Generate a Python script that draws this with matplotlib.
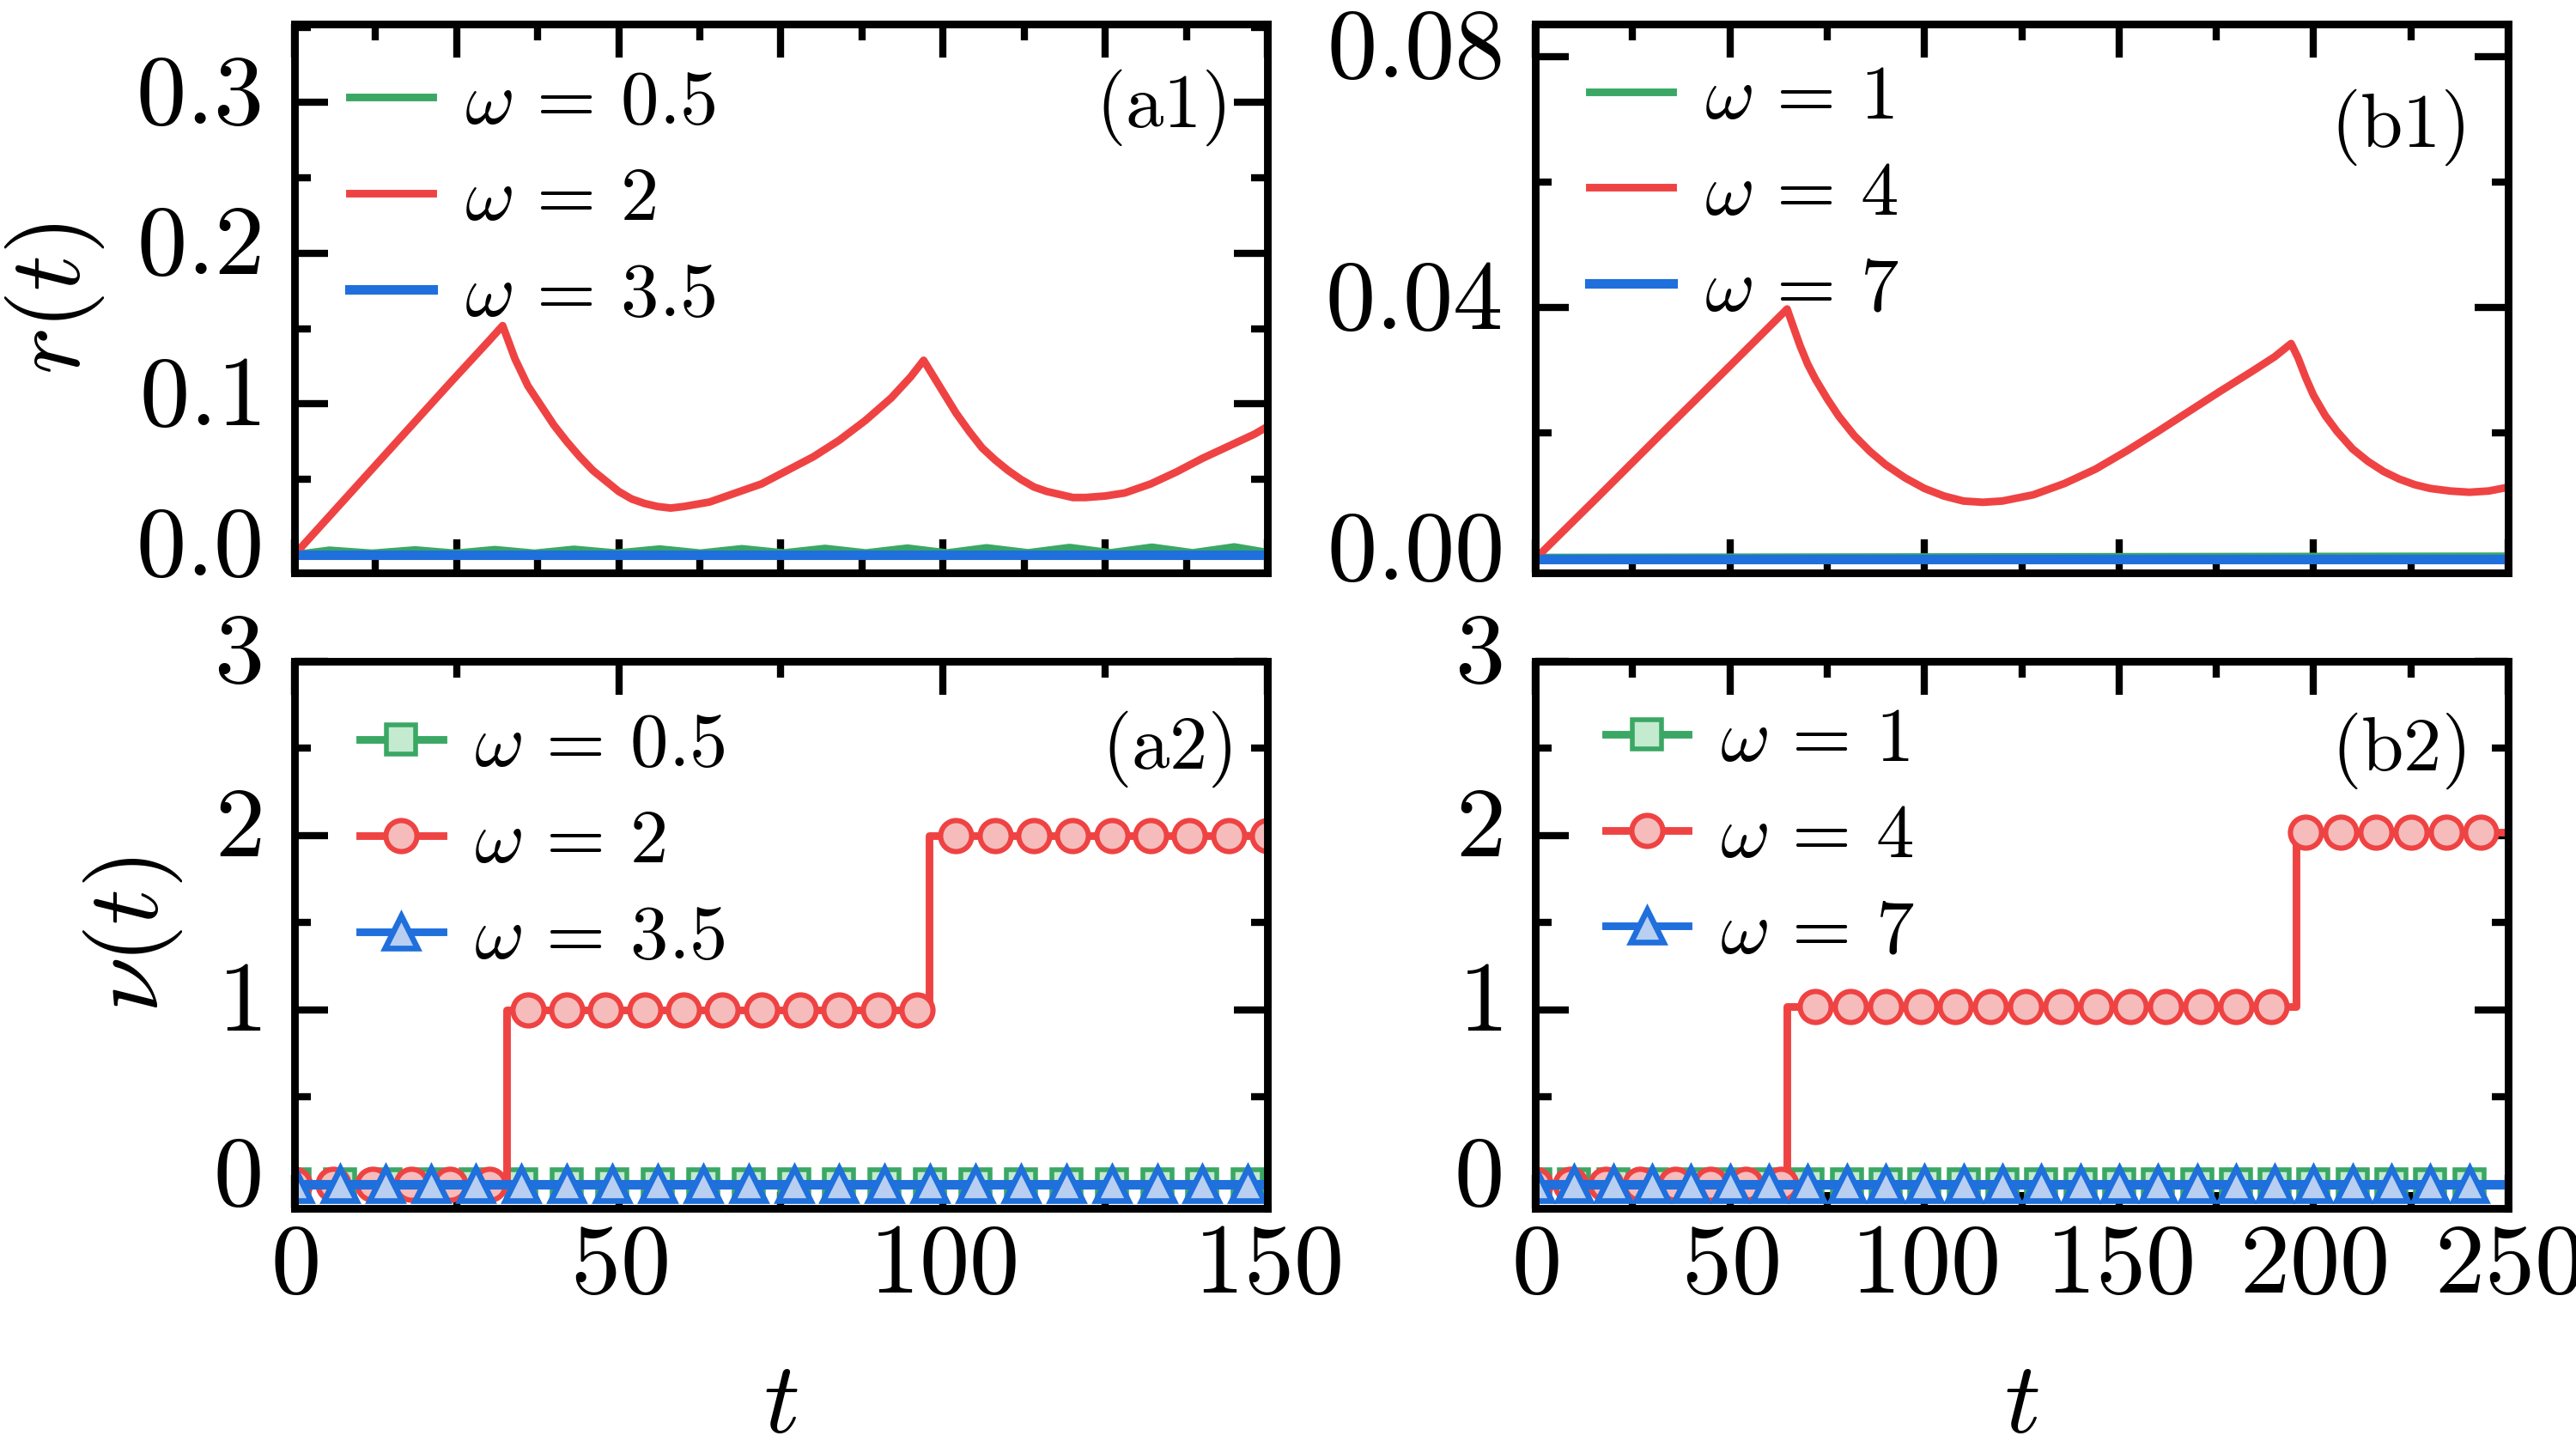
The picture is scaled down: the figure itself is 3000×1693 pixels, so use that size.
import matplotlib
matplotlib.use('Agg')
import matplotlib.pyplot as plt
import matplotlib.transforms as mtransforms
from matplotlib.lines import Line2D
from matplotlib.ticker import MultipleLocator

plt.rcParams['mathtext.fontset'] = 'cm'

# ---- data ----
# (a1) r(t), omega = 2
a1_red_t = [0, 8, 16, 24, 30, 32.1, 34, 36, 38, 40, 42, 44, 46, 48, 50, 52, 54, 56,
            58, 60, 64, 68, 72, 76, 80, 84, 88, 92, 95, 97, 98, 100, 102, 104, 106,
            108, 110, 112, 114, 116, 118, 120, 122, 125, 128, 132, 136, 140, 144, 148, 150]
a1_red_r = [0, 0.038, 0.076, 0.114, 0.142, 0.152, 0.130, 0.112, 0.099, 0.086, 0.075,
            0.065, 0.056, 0.049, 0.042, 0.037, 0.034, 0.032, 0.031, 0.032, 0.035,
            0.041, 0.047, 0.056, 0.065, 0.076, 0.089, 0.104, 0.118, 0.129, 0.122,
            0.108, 0.094, 0.082, 0.071, 0.063, 0.056, 0.050, 0.045, 0.042, 0.040,
            0.038, 0.038, 0.039, 0.041, 0.047, 0.055, 0.064, 0.072, 0.080, 0.085]
# (a1) omega = 0.5, small wiggles near zero
a1_green_t = [0, 5.4, 12, 18.6, 24.8, 30.9, 37, 43.1, 49.7, 56.3, 62.6, 69, 75.4,
              81.8, 88.1, 94.5, 100.6, 106.7, 113.1, 119.5, 125.8, 132.2, 138.5, 144.9, 150]
a1_green_r = [0.0, 0.0030, 0.0010, 0.0032, 0.0010, 0.0034, 0.0010, 0.0036, 0.0011,
              0.0038, 0.0011, 0.0040, 0.0012, 0.0042, 0.0012, 0.0044, 0.0012, 0.0046,
              0.0013, 0.0048, 0.0013, 0.0050, 0.0013, 0.0052, 0.0015]
# (a1) omega = 3.5
a1_blue_t = [0, 150]
a1_blue_r = [0, 0]

# (b1) r(t), omega = 4
b1_red_t = [0, 16, 32, 48, 60, 64.7, 66, 68, 70, 72, 75, 78, 82, 86, 90, 95, 100,
            105, 110, 115, 120, 128, 136, 144, 152, 160, 168, 176, 184, 190, 194.2,
            196, 198, 200, 203, 206, 210, 214, 218, 222, 226, 230, 235, 240, 245, 250]
b1_red_r = [0, 0.0098, 0.0197, 0.0295, 0.0369, 0.0398, 0.0375, 0.0340, 0.0310,
            0.0286, 0.0255, 0.0227, 0.0196, 0.0171, 0.0150, 0.0129, 0.0112, 0.0100,
            0.0092, 0.0090, 0.0092, 0.0102, 0.0120, 0.0143, 0.0172, 0.0203, 0.0235,
            0.0267, 0.0298, 0.0322, 0.0343, 0.0320, 0.0288, 0.0260, 0.0228, 0.0203,
            0.0175, 0.0155, 0.0139, 0.0127, 0.0118, 0.0112, 0.0108, 0.0106, 0.0108,
            0.0114]
b1_green_t = [0, 125, 250]
b1_green_r = [0.0002, 0.0003, 0.0004]
b1_blue_t = [0, 250]
b1_blue_r = [0, 0]

# (a2) nu(t)
a2_red_t = [0, 32.7, 32.7, 97.9, 97.9, 150]
a2_red_nu = [0, 0, 1, 1, 2, 2]
a2_red_mark_t = [0, 6, 12, 18, 24, 30, 36, 42, 48, 54, 60, 66, 72, 78, 84, 90, 96,
                 102, 108, 114, 120, 126, 132, 138, 144, 150]
a2_red_mark_nu = [0, 0, 0, 0, 0, 0, 1, 1, 1, 1, 1, 1, 1, 1, 1, 1, 1,
                  2, 2, 2, 2, 2, 2, 2, 2, 2]
a2_flat_t = [0, 150]
a2_flat_nu = [0, 0]
a2_mark_t = [0, 7, 14, 21, 28, 35, 42, 49, 56, 63, 70, 77, 84, 91, 98, 105, 112,
             119, 126, 133, 140, 147]
a2_mark_nu = [0, 0, 0, 0, 0, 0, 0, 0, 0, 0, 0, 0, 0, 0, 0, 0, 0, 0, 0, 0, 0, 0]

# (b2) nu(t)
b2_red_t = [0, 64.6, 64.6, 195.4, 195.4, 250]
b2_red_nu = [0, 0, 1.02, 1.02, 2.02, 2.02]
b2_red_mark_t = [0, 9, 18, 27, 36, 45, 54, 63, 72, 81, 90, 99, 108, 117, 126, 135,
                 144, 153, 162, 171, 180, 189, 198, 207, 216, 225, 234, 243]
b2_red_mark_nu = [0, 0, 0, 0, 0, 0, 0, 0, 1.02, 1.02, 1.02, 1.02, 1.02, 1.02, 1.02,
                  1.02, 1.02, 1.02, 1.02, 1.02, 1.02, 1.02, 2.02, 2.02, 2.02, 2.02,
                  2.02, 2.02]
b2_flat_t = [0, 250]
b2_flat_nu = [0, 0]
b2_mark_t = [0, 10, 20, 30, 40, 50, 60, 70, 80, 90, 100, 110, 120, 130, 140, 150,
             160, 170, 180, 190, 200, 210, 220, 230, 240]
b2_mark_nu = [0, 0, 0, 0, 0, 0, 0, 0, 0, 0, 0, 0, 0, 0, 0, 0, 0, 0, 0, 0, 0, 0, 0, 0, 0]

a_labels = [r'$\omega\,=\,0.5$', r'$\omega\,=\,2$', r'$\omega\,=\,3.5$']
b_labels = [r'$\omega\,=\,1$', r'$\omega\,=\,4$', r'$\omega\,=\,7$']

# ticks
a_xticks = [0, 50, 100, 150]
a_xticklabels = ['$0$', '$50$', '$100$', '$150$']
b_xticks = [0, 50, 100, 150, 200, 250]
b_xticklabels = ['$0$', '$50$', '$100$', '$150$', '$200$', '$250$']
a1_yticks = [0.0, 0.1, 0.2, 0.3]
a1_yticklabels = ['$0.0$', '$0.1$', '$0.2$', '$0.3$']
b1_yticks = [0.0, 0.04, 0.08]
b1_yticklabels = ['$0.00$', '$0.04$', '$0.08$']
nu_yticks = [0, 1, 2, 3]
nu_yticklabels = ['$0$', '$1$', '$2$', '$3$']

green = '#3aa864'
red = '#ef4343'
blue = '#1f6fdc'
green_face = '#c4ead0'
red_face = '#f6bcbc'
blue_face = '#b8cff2'

lw = 3.2
tick_fs = 42
leg_fs = 32

fig = plt.figure(figsize=(15, 8.465), dpi=200)
ax_a1 = fig.add_axes([0.1143, 0.606, 0.3777, 0.3774])
ax_b1 = fig.add_axes([0.596, 0.606, 0.3777, 0.3774])
ax_a2 = fig.add_axes([0.1143, 0.1689, 0.3777, 0.3763])
ax_b2 = fig.add_axes([0.596, 0.1689, 0.3777, 0.3763])

ylab_shift = mtransforms.ScaledTranslation(0, 7.5 / 72, fig.dpi_scale_trans)


def style(ax):
    for s in ax.spines.values():
        s.set_linewidth(3.2)
    ax.tick_params(which='both', direction='in', top=True, right=True, width=3)
    ax.tick_params(which='major', length=14)
    ax.tick_params(which='minor', length=7)
    ax.tick_params(axis='x', pad=3, labelsize=tick_fs)
    ax.tick_params(axis='y', pad=14, labelsize=tick_fs)


def shift_ylabels(ax):
    # tick numbers sit a little above their ticks in the original
    for lab in ax.yaxis.get_majorticklabels():
        lab.set_transform(lab.get_transform() + ylab_shift)


def add_legend(ax, x, y, handles=None, labels=None):
    kw = dict(loc='upper left', bbox_to_anchor=(x, y), frameon=False,
              fontsize=leg_fs, handlelength=1.09, handletextpad=0.41,
              labelspacing=0.28, borderpad=0, borderaxespad=0, numpoints=1)
    if handles is None:
        ax.legend(**kw)
    else:
        ax.legend(handles, labels, **kw)


# ---- (a1) ----
ax = ax_a1
ax.plot(a1_green_t, a1_green_r, color=green, lw=lw, label=a_labels[0])
ax.plot(a1_red_t, a1_red_r, color=red, lw=lw, label=a_labels[1])
ax.plot(a1_blue_t, a1_blue_r, color=blue, lw=lw + 0.8, label=a_labels[2])
ax.set_xlim(0, 150)
ax.set_ylim(-0.012, 0.352)
ax.set_xticks([0, 25, 50, 75, 100, 125, 150])
ax.xaxis.set_minor_locator(MultipleLocator(12.5))
ax.tick_params(labelbottom=False)
ax.set_yticks(a1_yticks, labels=a1_yticklabels)
ax.yaxis.set_minor_locator(MultipleLocator(0.05))
style(ax)
ax.set_ylabel(r'$r(t)$', fontsize=42, labelpad=12)
add_legend(ax, 0.057, 0.925)
ax.text(0.957, 0.848, r'$\mathrm{(a1)}$', transform=ax.transAxes, ha='right',
        va='center', fontsize=leg_fs)

# ---- (b1) ----
ax = ax_b1
ax.plot(b1_green_t, b1_green_r, color=green, lw=lw, label=b_labels[0])
ax.plot(b1_red_t, b1_red_r, color=red, lw=lw, label=b_labels[1])
ax.plot(b1_blue_t, b1_blue_r, color=blue, lw=lw + 0.8, label=b_labels[2])
ax.set_xlim(0, 250)
ax.set_ylim(-0.00225, 0.0852)
ax.set_xticks(b_xticks)
ax.xaxis.set_minor_locator(MultipleLocator(25))
ax.tick_params(labelbottom=False)
ax.set_yticks(b1_yticks, labels=b1_yticklabels)
ax.yaxis.set_minor_locator(MultipleLocator(0.02))
style(ax)
add_legend(ax, 0.056, 0.935)
ax.text(0.955, 0.812, r'$\mathrm{(b1)}$', transform=ax.transAxes, ha='right',
        va='center', fontsize=leg_fs)


# ---- bottom row helper ----
def nu_panel(ax, red_t, red_nu, rm_t, rm_nu, flat_t, flat_nu, m_t, m_nu):
    ax.plot(flat_t, flat_nu, color=green, lw=lw)
    ax.plot(m_t, m_nu, ls='none', marker='s', ms=12, mfc=green_face, mec=green, mew=2)
    ax.plot(red_t, red_nu, color=red, lw=lw)
    ax.plot(rm_t, rm_nu, ls='none', marker='o', ms=13, mfc=red_face, mec=red, mew=2.2)
    ax.plot(flat_t, flat_nu, color=blue, lw=lw + 0.8)
    ax.plot(m_t, m_nu, ls='none', marker='^', ms=14, mfc=blue_face, mec=blue, mew=2.4)
    handles = [
        Line2D([], [], color=green, lw=lw, marker='s', ms=12, mfc=green_face, mec=green, mew=2),
        Line2D([], [], color=red, lw=lw, marker='o', ms=13, mfc=red_face, mec=red, mew=2.2),
        Line2D([], [], color=blue, lw=lw, marker='^', ms=14, mfc=blue_face, mec=blue, mew=2.4),
    ]
    return handles


h = nu_panel(ax_a2, a2_red_t, a2_red_nu, a2_red_mark_t, a2_red_mark_nu,
             a2_flat_t, a2_flat_nu, a2_mark_t, a2_mark_nu)
ax = ax_a2
ax.set_xlim(0, 150)
ax.set_ylim(-0.14, 3)
ax.set_xticks(a_xticks, labels=a_xticklabels)
ax.xaxis.set_minor_locator(MultipleLocator(25))
ax.set_yticks(nu_yticks, labels=nu_yticklabels)
ax.yaxis.set_minor_locator(MultipleLocator(0.5))
style(ax)
ax.set_ylabel(r'$\nu(t)$', fontsize=42, labelpad=12)
ax.set_xlabel(r'$t$', fontsize=42, labelpad=17)
add_legend(ax, 0.067, 0.915, h, a_labels)
ax.text(0.963, 0.84, r'$\mathrm{(a2)}$', transform=ax.transAxes, ha='right',
        va='center', fontsize=leg_fs)

h = nu_panel(ax_b2, b2_red_t, b2_red_nu, b2_red_mark_t, b2_red_mark_nu,
             b2_flat_t, b2_flat_nu, b2_mark_t, b2_mark_nu)
ax = ax_b2
ax.set_xlim(0, 250)
ax.set_ylim(-0.14, 3)
ax.set_xticks(b_xticks, labels=b_xticklabels)
ax.xaxis.set_minor_locator(MultipleLocator(25))
ax.set_yticks(nu_yticks, labels=nu_yticklabels)
ax.yaxis.set_minor_locator(MultipleLocator(0.5))
style(ax)
ax.set_xlabel(r'$t$', fontsize=42, labelpad=17)
add_legend(ax, 0.072, 0.925, h, b_labels)
ax.text(0.956, 0.837, r'$\mathrm{(b2)}$', transform=ax.transAxes, ha='right',
        va='center', fontsize=leg_fs)

for ax in (ax_a1, ax_b1, ax_a2, ax_b2):
    shift_ylabels(ax)

fig.savefig('out.png', dpi=200)
